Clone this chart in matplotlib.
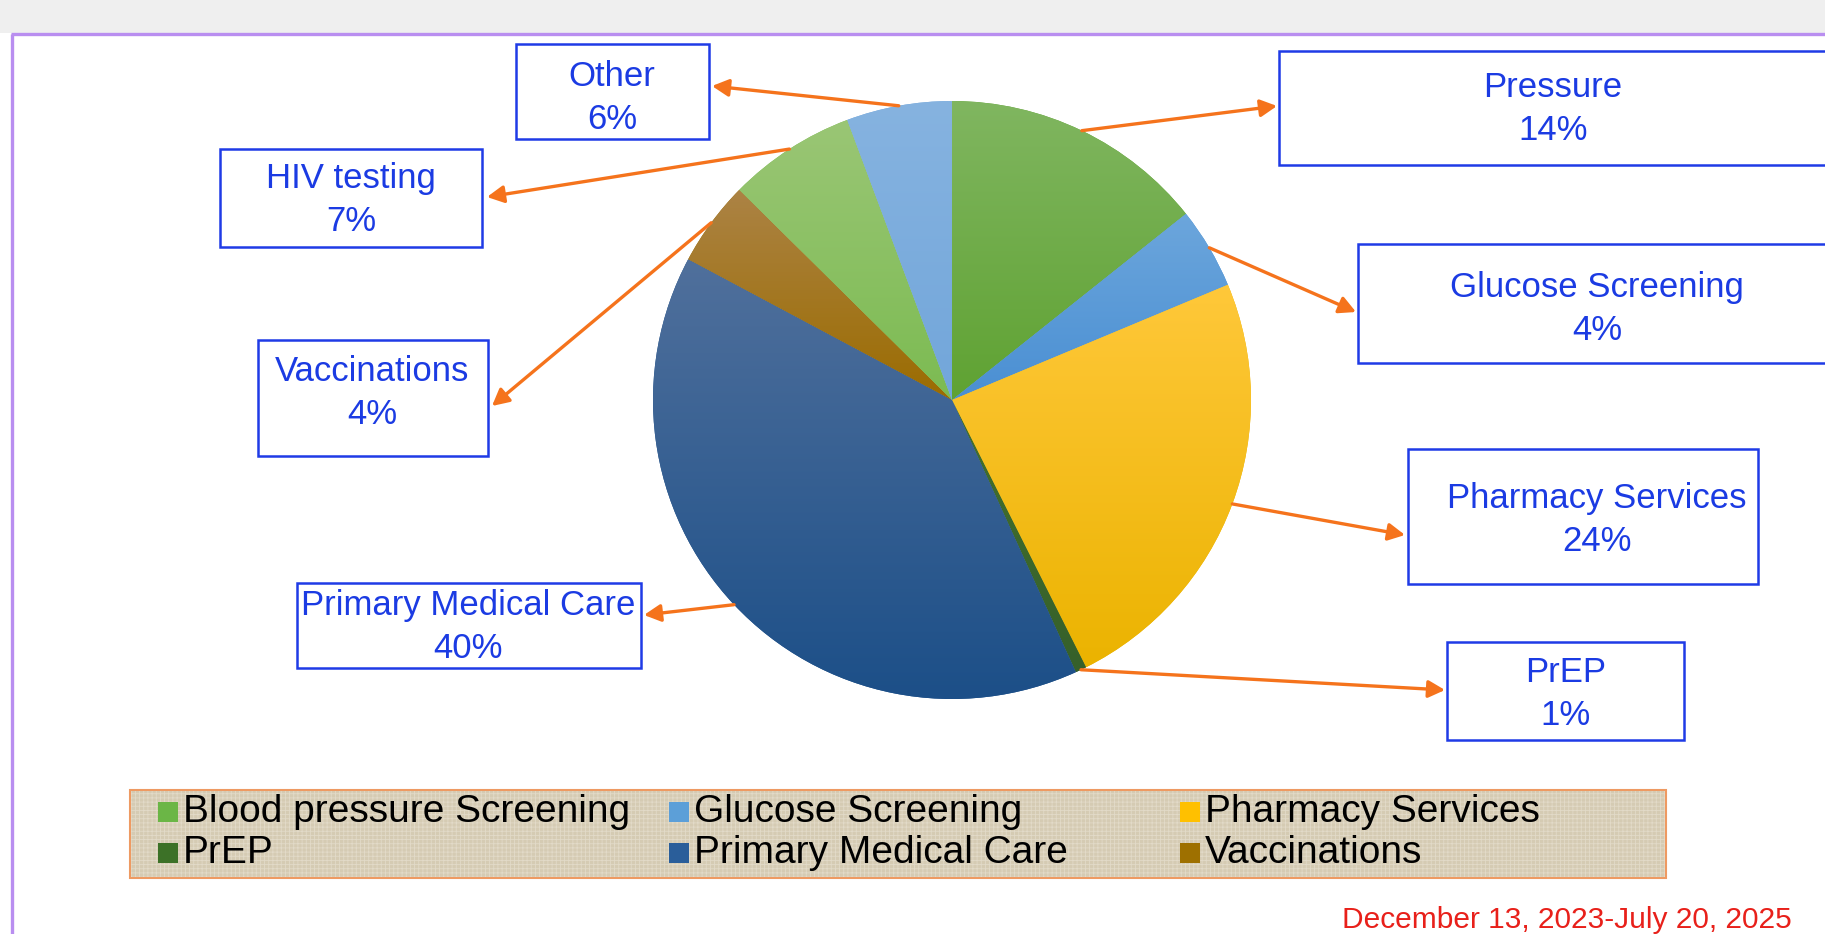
import numpy as np
import matplotlib
matplotlib.use('Agg')
import matplotlib.pyplot as plt
from matplotlib.patches import Rectangle
import matplotlib.colors as mcolors

plt.rcParams['font.family'] = ['Liberation Sans', 'DejaVu Sans']
plt.rcParams['hatch.linewidth'] = 0.6

W, H = 1825, 934

# ---------------- data ----------------
categories = ['Blood pressure Screening', 'Glucose Screening', 'Pharmacy Services', 'PrEP',
              'Primary Medical Care', 'Vaccinations', 'HIV testing', 'Other']
values = [14.3, 4.4, 23.9, 0.6, 39.6, 4.6, 6.9, 5.7]
callout_names = ['Pressure', 'Glucose Screening', 'Pharmacy Services', 'PrEP',
                 'Primary Medical Care', 'Vaccinations', 'HIV testing', 'Other']
callout_pcts = ['14%', '4%', '24%', '1%', '40%', '4%', '7%', '6%']
legend_items = ['Blood pressure Screening', 'Glucose Screening', 'Pharmacy Services',
                'PrEP', 'Primary Medical Care', 'Vaccinations']
date_text = 'December 13, 2023-July 20, 2025'

# ---------------- styles ----------------
slice_grad = [  # (top colour, bottom colour)
    ('#80B660', '#5FA232'),
    ('#6CA6DC', '#4A8FD3'),
    ('#FFC83A', '#EBB300'),
    ('#44702E', '#36602A'),
    ('#50709C', '#1C4F88'),
    ('#AC8345', '#9B6C00'),
    ('#9AC675', '#7CBB52'),
    ('#86B3E0', '#72A6DA'),
]
legend_colors = ['#6BB646', '#5C9FD8', '#FFC000', '#3C7127', '#2A5E9A', '#9E7000']

label_blue = '#1B3BE3'
box_blue = '#1F3BE6'
orange = '#F5731C'

cx, cy, R = 952, 400, 299

# boxes in pixel coords (x0, y0, x1, y1), y downward
boxes = [
    (1279, 51, 1832, 165),
    (1358, 244, 1832, 363),
    (1408, 449, 1758, 584),
    (1447, 642, 1684, 740),
    (297, 583, 641, 668),
    (258, 340, 488, 456),
    (220, 149, 482, 247),
    (516, 44, 709, 139),
]
text_pos = [
    (1553, 109), (1597, 309), (1597, 520), (1566, 694),
    (468, 627), (372, 393), (351, 200), (612, 98),
]
arrow_end = [
    (1277, 106), (1356, 312), (1405, 535), (1445, 690),
    (644, 615), (492, 406), (487, 197), (712, 86),
]

fig = plt.figure(figsize=(W / 100, H / 100), dpi=100)
ax = fig.add_axes([0, 0, 1, 1])


def Y(y):
    return H - y


# background frame
ax.add_patch(Rectangle((0, Y(33)), W, 33, facecolor='#EFEFEF', edgecolor='none', zorder=0))
ax.plot([11, W], [Y(34), Y(34)], color='#B98EF0', lw=2.4, zorder=1, solid_capstyle='butt')
ax.plot([12, 12], [Y(34), 0], color='#B98EF0', lw=2.4, zorder=1, solid_capstyle='butt')

# pie
wedges, _ = ax.pie(values, colors=[c[1] for c in slice_grad], startangle=90, counterclock=False,
                   center=(cx, Y(cy)), radius=R, wedgeprops=dict(linewidth=0), frame=True)
for w, (ctop, cbot) in zip(wedges, slice_grad):
    ext = w.get_path().get_extents()
    t = np.linspace(0, 1, 256)[:, None]
    top = np.array(mcolors.to_rgb(ctop))
    bot = np.array(mcolors.to_rgb(cbot))
    arr = bot + (top - bot) * t
    im = ax.imshow(arr[:, None, :], extent=(ext.x0, ext.x1, ext.y0, ext.y1), origin='lower',
                   aspect='auto', interpolation='bilinear', zorder=w.get_zorder() + 0.1)
    im.set_clip_path(w)

# callouts
for w, name, pct, box, tp, ae in zip(wedges, callout_names, callout_pcts, boxes, text_pos, arrow_end):
    x0, y0, x1, y1 = box
    ax.add_patch(Rectangle((x0, Y(y1)), x1 - x0, y1 - y0, facecolor='white',
                           edgecolor=box_blue, lw=1.8, zorder=3))
    ax.text(tp[0], Y(tp[1]), f'{name}\n{pct}', ha='center', va='center', color=label_blue,
            fontsize=25, linespacing=1.42, zorder=4)
    mid = np.deg2rad((w.theta1 + w.theta2) / 2)
    sx = w.center[0] + w.r * np.cos(mid)
    sy = w.center[1] + w.r * np.sin(mid)
    ax.annotate('', xy=(ae[0], Y(ae[1])), xytext=(sx, sy), zorder=5,
                arrowprops=dict(arrowstyle='-|>,head_length=0.5,head_width=0.26',
                                color=orange, lw=2.4, mutation_scale=20,
                                shrinkA=0, shrinkB=0))

# legend (manual, equal-width columns)
ax.add_patch(Rectangle((130, Y(878)), 1666 - 130, 878 - 790, facecolor='#D5CBB3',
                       edgecolor='#EE9A62', lw=1.5, zorder=3))
ax.add_patch(Rectangle((131, Y(877)), 1666 - 132, 878 - 792, facecolor='none',
                       edgecolor='#E2DAC8', lw=0, hatch='++++', zorder=3.2))
col_x = [158, 669, 1180]
row_y = [812, 853]
for i, (lab, col) in enumerate(zip(legend_items, legend_colors)):
    r, c = divmod(i, 3)
    mx, my = col_x[c], row_y[r]
    ax.add_patch(Rectangle((mx, Y(my) - 10), 20, 20, facecolor=col, edgecolor='none', zorder=4))
    ax.text(mx + 25, Y(my), lab, ha='left', va='center', color='black', fontsize=28, zorder=4)

# date
ax.text(1792, Y(928), date_text, ha='right', va='baseline', color='#E8201A', fontsize=21.5)

ax.set_xlim(0, W)
ax.set_ylim(0, H)
ax.axis('off')
fig.savefig('out.png', dpi=100, facecolor='white')
